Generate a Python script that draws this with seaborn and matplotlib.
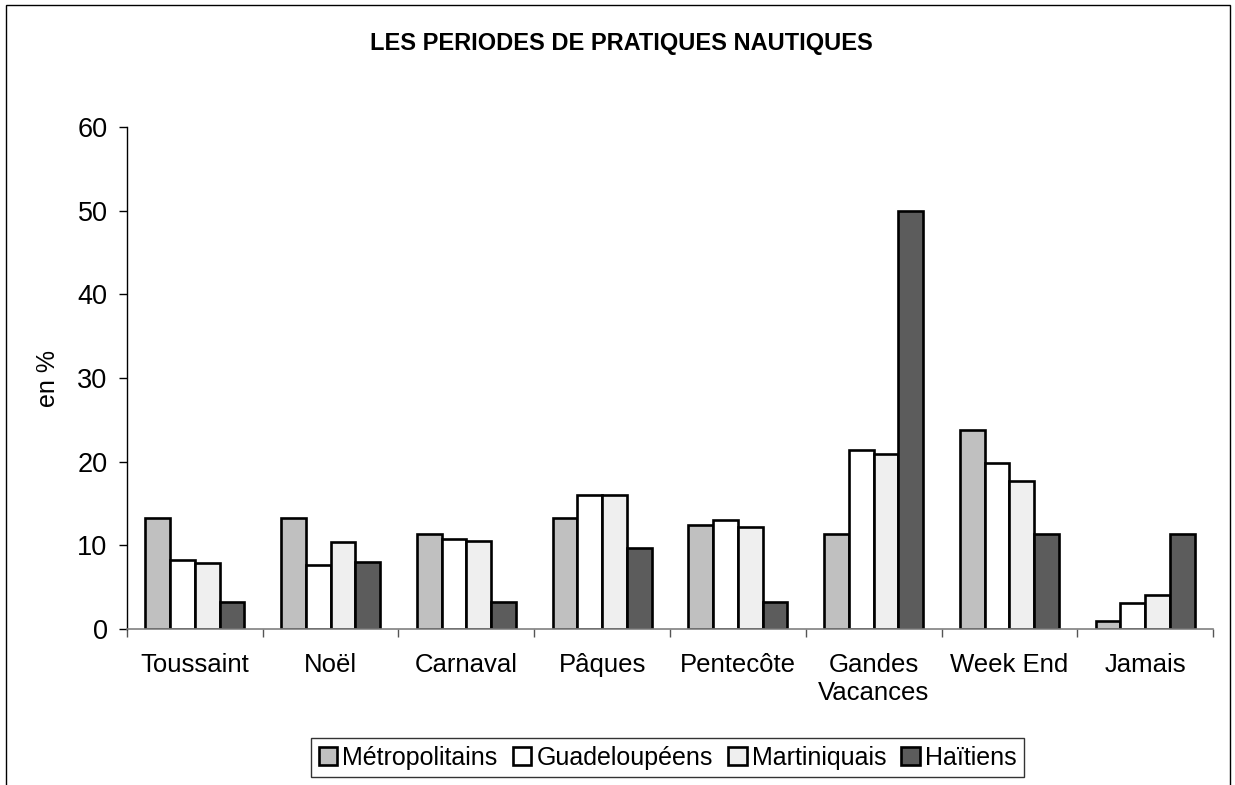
import pandas as pd
import matplotlib.pyplot as plt
import seaborn as sns

# Values (en %)
periods = ["Toussaint", "Noël", "Carnaval", "Pâques", "Pentecôte",
           "Gandes\nVacances", "Week End", "Jamais"]
groups = ["Métropolitains", "Guadeloupéens", "Martiniquais", "Haïtiens"]

metropolitains = [13.3, 13.3, 11.3, 13.3, 12.4, 11.4, 23.8, 0.9]
guadeloupeens = [8.3, 7.6, 10.7, 16.0, 13.0, 21.4, 19.8, 3.1]
martiniquais = [7.9, 10.4, 10.5, 16.0, 12.2, 20.9, 17.7, 4.1]
haitiens = [3.2, 8.0, 3.2, 9.7, 3.2, 50.0, 11.3, 11.3]

colors = ["#c0c0c0", "#ffffff", "#efefef", "#5c5c5c"]

# Long format for seaborn
rows = []
for g, vals in zip(groups, [metropolitains, guadeloupeens, martiniquais, haitiens]):
    for p, v in zip(periods, vals):
        rows.append({"periode": p, "groupe": g, "valeur": v})
df = pd.DataFrame(rows)

sns.set_style("white")
plt.rcParams["font.family"] = ["Liberation Sans", "DejaVu Sans"]
plt.rcParams["text.color"] = "black"
plt.rcParams["axes.labelcolor"] = "black"
plt.rcParams["xtick.color"] = "black"
plt.rcParams["ytick.color"] = "black"

fig = plt.figure(figsize=(12.35, 7.85), dpi=100)
ax = fig.add_axes([0.1028, 0.1987, 0.8794, 0.6395])

sns.barplot(
    data=df,
    x="periode",
    y="valeur",
    hue="groupe",
    order=periods,
    hue_order=groups,
    palette=colors,
    width=0.73,
    edgecolor="black",
    linewidth=1.9,
    saturation=1,
    ax=ax,
)

ax.set_ylim(0, 60)
ax.set_xlim(-0.5, len(periods) - 0.5)
ax.set_yticks(range(0, 61, 10))
ax.set_xlabel("")
ax.set_ylabel("en %", fontsize=18)
ax.yaxis.set_label_coords(-0.062, 0.5)

# category separators as ticks on the x axis
ax.set_xticks([i - 0.5 for i in range(len(periods) + 1)], minor=True)
ax.tick_params(axis="x", which="major", length=0, pad=17, labelsize=18.5)
ax.tick_params(axis="x", which="minor", length=6, width=1, color="#555555", bottom=True)
ax.tick_params(axis="y", which="major", length=6, width=1, color="black",
               left=True, pad=8, labelsize=19.5)
for lbl in ax.get_xticklabels():
    lbl.set_linespacing(1.25)

for side in ["top", "right"]:
    ax.spines[side].set_visible(False)
ax.spines["left"].set_color("black")
ax.spines["left"].set_linewidth(1)
ax.spines["bottom"].set_color("#808080")
ax.spines["bottom"].set_linewidth(1.2)

fig.text(0.503, 0.945, "LES PERIODES DE PRATIQUES NAUTIQUES",
         ha="center", va="center", fontsize=17, fontweight="bold")

handles, labels = ax.get_legend_handles_labels()
ax.legend(
    handles, labels,
    loc="center",
    bbox_to_anchor=(0.5405, 0.035),
    bbox_transform=fig.transFigure,
    ncol=4,
    fontsize=18,
    frameon=True,
    fancybox=False,
    edgecolor="black",
    handlelength=0.75,
    handleheight=0.75,
    handletextpad=0.2,
    columnspacing=0.6,
    borderpad=0.3,
)
ax.get_legend().get_frame().set_linewidth(1)

# frame around the whole chart
border = plt.Rectangle((6 / 1235, -0.1), (1230 - 6) / 1235, 1.1 - 5 / 785,
                       transform=fig.transFigure, fill=False,
                       edgecolor="black", linewidth=1)
fig.add_artist(border)

fig.savefig("out.png", dpi=100)
